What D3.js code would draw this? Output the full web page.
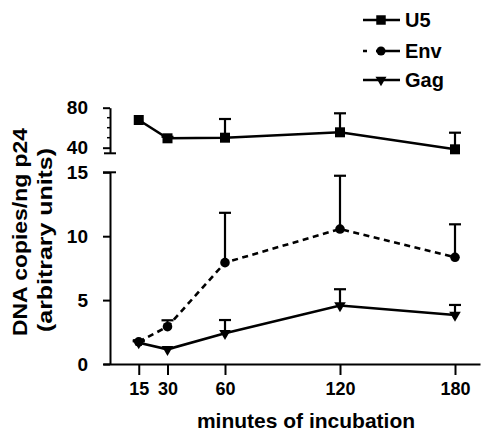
<!DOCTYPE html>
<html>
<head>
<meta charset="utf-8">
<script src="https://cdn.jsdelivr.net/npm/d3@7"></script>
<style>
  body { margin: 0; background: #fff; }
  svg { display: block; font-family: Arial, "Liberation Sans", sans-serif; font-weight: bold; }
</style>
</head>
<body>
<div id="chart"></div>
<script>
// time points (minutes of incubation)
const minutes = [15, 30, 60, 120, 180];

// means and upper error (SEM) per series
const u5 = [67.7, 49.4, 50, 55.4, 38.4];
const u5Err = [0, 1.5, 18.7, 19, 16.6];
const env = [1.74, 2.92, 7.93, 10.56, 8.35];
const envErr = [0.1, 0.5, 3.9, 4.17, 2.58];
const gag = [1.67, 1.15, 2.4, 4.58, 3.83];
const gagErr = [0.1, 0.1, 1.04, 1.27, 0.79];

const lowTicks = [0, 5, 10, 15];
const highTicks = [40, 80];
const highMinorTicks = [50, 60, 70];

function drawBrokenAxisChart(containerId) {
  const width = 482, height = 431;

  const svg = d3.select(containerId).append('svg')
    .attr('width', width)
    .attr('height', height);

  const x = d3.scaleLinear().domain([0, 180]).range([110, 455]);
  const yLow = d3.scaleLinear().domain([0, 15]).range([364, 172.3]);
  const yHigh = d3.scaleLinear().domain([40, 80]).range([147.7, 107.7]);

  // x axis (starts a little left of the y axis, runs to the right edge)
  const xAxisScale = d3.scaleLinear()
    .domain([x.invert(103), x.invert(480)])
    .range([103, 480]);

  const xAxis = svg.append('g')
    .attr('transform', 'translate(0,364)')
    .call(d3.axisBottom(xAxisScale)
      .tickValues(minutes)
      .tickSize(11)
      .tickSizeOuter(0)
      .tickPadding(7));

  // lower y axis 0-15
  const yLowAxis = svg.append('g')
    .attr('transform', 'translate(110,0)')
    .call(d3.axisLeft(yLow)
      .tickValues(lowTicks)
      .tickSize(7)
      .tickSizeOuter(0)
      .tickPadding(15));

  // upper y axis 40-80 (extends down a bit to the break)
  const yHighAxisScale = d3.scaleLinear()
    .domain([yHigh.invert(153.3), 80])
    .range([153.3, 107.7]);

  const yHighAxis = svg.append('g')
    .attr('transform', 'translate(110,0)')
    .call(d3.axisLeft(yHighAxisScale)
      .tickValues(highTicks)
      .tickSize(7)
      .tickSizeOuter(0)
      .tickPadding(15));

  [xAxis, yLowAxis, yHighAxis].forEach(g => {
    g.selectAll('path, line').attr('stroke', '#000').attr('stroke-width', 2);
    g.selectAll('text')
      .attr('fill', '#000')
      .style('font-size', '19px')
      .style('font-weight', 'bold')
      .style('font-family', 'Arial, "Liberation Sans", sans-serif');
  });
  xAxis.selectAll('text').style('font-size', '18px');

  // minor ticks on the upper axis
  svg.append('g').selectAll('line')
    .data(highMinorTicks)
    .enter()
    .append('line')
    .attr('x1', 107).attr('x2', 110)
    .attr('y1', d => yHigh(d)).attr('y2', d => yHigh(d))
    .attr('stroke', '#000').attr('stroke-width', 1.5);

  // break caps
  svg.append('line')
    .attr('x1', 104).attr('x2', 116)
    .attr('y1', 153.3).attr('y2', 153.3)
    .attr('stroke', '#000').attr('stroke-width', 2);
  svg.append('line')
    .attr('x1', 103).attr('x2', 116)
    .attr('y1', yLow(15)).attr('y2', yLow(15))
    .attr('stroke', '#000').attr('stroke-width', 2);

  const series = [
    { name: 'U5', values: u5, err: u5Err, y: yHigh, symbol: d3.symbolSquare, size: 100, rotate: 0, dash: null },
    { name: 'Env', values: env, err: envErr, y: yLow, symbol: d3.symbolCircle, size: 72, rotate: 0, dash: '6,4.5' },
    { name: 'Gag', values: gag, err: gagErr, y: yLow, symbol: d3.symbolTriangle, size: 58, rotate: 180, dash: null }
  ];

  series.forEach(s => {
    const pts = minutes.map((m, i) => ({ m, v: s.values[i], e: s.err[i] }));

    const line = d3.line()
      .x(d => x(d.m))
      .y(d => s.y(d.v));

    svg.append('path')
      .datum(pts)
      .attr('d', line)
      .attr('fill', 'none')
      .attr('stroke', '#000')
      .attr('stroke-width', 2.6)
      .attr('stroke-dasharray', s.dash);

    // upper error bars (none drawn where no error was shown)
    const eb = svg.append('g').selectAll('g')
      .data(pts.filter(d => d.e > 0))
      .enter()
      .append('g');

    eb.append('line')
      .attr('x1', d => x(d.m)).attr('x2', d => x(d.m))
      .attr('y1', d => s.y(d.v)).attr('y2', d => s.y(d.v + d.e))
      .attr('stroke', '#000').attr('stroke-width', 2.2);

    eb.append('line')
      .attr('x1', d => x(d.m) - 6).attr('x2', d => x(d.m) + 6)
      .attr('y1', d => s.y(d.v + d.e)).attr('y2', d => s.y(d.v + d.e))
      .attr('stroke', '#000').attr('stroke-width', 2.2);

    svg.append('g').selectAll('path')
      .data(pts)
      .enter()
      .append('path')
      .attr('d', d3.symbol().type(s.symbol).size(s.size))
      .attr('transform', d => `translate(${x(d.m)},${s.y(d.v)}) rotate(${s.rotate})`)
      .attr('fill', '#000');
  });

  // legend
  const legendY = [20, 51, 80];
  series.forEach((s, i) => {
    const g = svg.append('g').attr('transform', `translate(0,${legendY[i]})`);
    g.append('line')
      .attr('x1', 363).attr('x2', 400)
      .attr('y1', 0).attr('y2', 0)
      .attr('stroke', '#000')
      .attr('stroke-width', 2.4)
      .attr('stroke-dasharray', s.dash ? '4,9,30' : null);
    g.append('path')
      .attr('d', d3.symbol().type(s.symbol).size(s.size * 0.9))
      .attr('transform', `translate(381,0) rotate(${s.rotate})`)
      .attr('fill', '#000');
    g.append('text')
      .attr('x', 405)
      .attr('dy', '0.36em')
      .style('font-size', '20px')
      .text(s.name);
  });

  // axis titles
  const yTitle = svg.append('text')
    .attr('transform', 'translate(0,0) rotate(-90)')
    .attr('text-anchor', 'middle')
    .style('font-size', '20px');

  yTitle.append('tspan')
    .attr('x', -232).attr('y', 27)
    .attr('textLength', 208)
    .attr('lengthAdjust', 'spacingAndGlyphs')
    .text('DNA copies/ng p24');

  yTitle.append('tspan')
    .attr('x', -240).attr('y', 52)
    .attr('textLength', 184)
    .attr('lengthAdjust', 'spacingAndGlyphs')
    .text('(arbitrary units)');

  svg.append('text')
    .attr('x', 306)
    .attr('y', 428)
    .attr('text-anchor', 'middle')
    .style('font-size', '21px')
    .text('minutes of incubation');
}

drawBrokenAxisChart('#chart');
</script>
</body>
</html>
